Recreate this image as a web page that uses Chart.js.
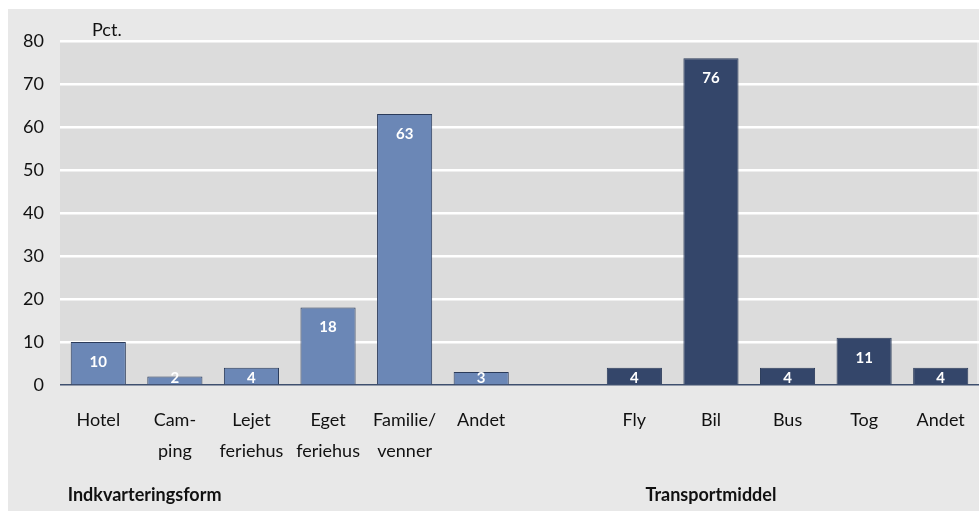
<!DOCTYPE html>
<html>
<head>
<meta charset="utf-8">
<script src="https://cdn.jsdelivr.net/npm/chart.js@4"></script>
<style>
    body { margin: 0; background: #ffffff; }
    #wrap { width: 979px; height: 511px; }
</style>
</head>
<body>
<div id="wrap"><canvas id="chart"></canvas></div>
<script>
    /*
        ----------> DATA <----------
    */

    const categories = [
        "Hotel", ["Cam-", "ping"], ["Lejet", "feriehus"], ["Eget", "feriehus"], ["Familie/", "venner"], "Andet",
        "",
        "Fly", "Bil", "Bus", "Tog", "Andet"
    ];
    const values = [10, 2, 4, 18, 63, 3, null, 4, 76, 4, 11, 4];
    const groupIndex = [0, 0, 0, 0, 0, 0, 0, 1, 1, 1, 1, 1];
    const groupLabels = ["Indkvarteringsform", "Transportmiddel"];
    const yTicks = [0, 10, 20, 30, 40, 50, 60, 70, 80];
    const unitLabel = "Pct.";

    const FONT = "Lato, 'Liberation Sans', sans-serif";
    const groupColors = ["#6b87b6", "#34466a"];

    /*
        ----------> PLUGINS <----------
    */

    const background = {
        id: "background",
        beforeDraw(chart) {
            const { ctx, chartArea } = chart;
            ctx.save();
            ctx.fillStyle = "#ffffff";
            ctx.fillRect(0, 0, chart.width, chart.height);
            ctx.fillStyle = "#e8e8e8";
            ctx.fillRect(8, 9, chart.width - 8, chart.height - 9);
            ctx.fillStyle = "#dcdcdc";
            ctx.fillRect(chartArea.left, chartArea.top, chartArea.right - chartArea.left - 2, chartArea.bottom - chartArea.top);
            ctx.restore();
        }
    };

    const extras = {
        id: "extras",
        afterDatasetsDraw(chart) {
            const { ctx } = chart;
            const x = chart.scales.x;
            const meta = chart.getDatasetMeta(0);
            ctx.save();

            // value labels inside bars
            ctx.fillStyle = "#ffffff";
            ctx.font = "bold 15px " + FONT;
            ctx.textAlign = "center";
            ctx.textBaseline = "middle";
            meta.data.forEach((bar, i) => {
                if (values[i] == null) return;
                const y = Math.min(bar.y + 20, bar.base - 6);
                ctx.fillText(values[i], bar.x, y);
            });

            // unit label
            ctx.fillStyle = "#111111";
            ctx.font = "18px " + FONT;
            ctx.textAlign = "left";
            ctx.fillText(unitLabel, 92, 30);

            // group labels
            ctx.font = "bold 18px " + FONT;
            const firstBar = meta.data[0];
            ctx.textAlign = "left";
            ctx.fillText(groupLabels[0], firstBar.x - firstBar.width / 2 - 3, 495);
            ctx.textAlign = "center";
            ctx.fillText(groupLabels[1], x.getPixelForValue(8), 495);

            ctx.restore();
        }
    };

    /*
        ----------> CHART <----------
    */

    new Chart(document.getElementById("chart"), {
        type: "bar",
        data: {
            labels: categories,
            datasets: [
                {
                    data: values,
                    backgroundColor: groupIndex.map(g => groupColors[g]),
                    borderColor: "#2b3b5a",
                    borderWidth: 1,
                    categoryPercentage: 1,
                    barPercentage: 0.72,
                }
            ]
        },
        options: {
            responsive: true,
            maintainAspectRatio: false,
            animation: false,
            layout: {
                padding: { top: 41, right: 0, bottom: 0, left: 0 },
            },
            plugins: {
                legend: { display: false },
                tooltip: { enabled: false },
            },
            scales: {
                x: {
                    grid: { display: false, drawTicks: false },
                    border: { display: false },
                    ticks: {
                        color: "#111111",
                        font: { family: FONT, size: 18, lineHeight: 1.72 },
                        padding: 20,
                        maxRotation: 0,
                        autoSkip: false,
                    },
                    afterFit(scale) {
                        scale.height = 126;
                        scale.paddingLeft = 0;
                        scale.paddingRight = 0;
                    },
                },
                y: {
                    min: 0,
                    max: 80,
                    afterBuildTicks(scale) { scale.ticks = yTicks.map(v => ({ value: v })); },
                    grid: {
                        drawTicks: false,
                        color: ctx => ctx.tick.value == 0 ? "#3e4f6e" : "#ffffff",
                        lineWidth: ctx => ctx.tick.value == 0 ? 1.5 : 2.5,
                    },
                    border: { display: false },
                    ticks: {
                        color: "#111111",
                        font: { family: FONT, size: 18 },
                        padding: 16,
                    },
                    afterFit(scale) { scale.width = 60; },
                },
            },
        },
        plugins: [background, extras],
    });
</script>
</body>
</html>
